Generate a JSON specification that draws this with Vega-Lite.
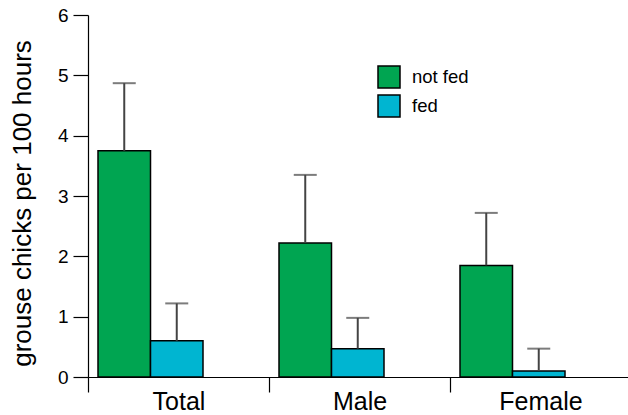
{
  "$schema": "https://vega.github.io/schema/vega-lite/v6.json",
  "width": 543,
  "height": 362,
  "autosize": {"type": "none"},
  "padding": {"left": 88, "top": 15, "right": 0, "bottom": 38},
  "background": "white",
  "config": {
    "view": {"stroke": null},
    "font": "Liberation Sans"
  },
  "data": {
    "values": [
      {"group": "Total", "feeding": "not fed", "mean": 3.75, "upper": 4.87},
      {"group": "Total", "feeding": "fed", "mean": 0.6, "upper": 1.22},
      {"group": "Male", "feeding": "not fed", "mean": 2.22, "upper": 3.35},
      {"group": "Male", "feeding": "fed", "mean": 0.47, "upper": 0.98},
      {"group": "Female", "feeding": "not fed", "mean": 1.85, "upper": 2.72},
      {"group": "Female", "feeding": "fed", "mean": 0.1, "upper": 0.47}
    ]
  },
  "encoding": {
    "x": {
      "field": "group",
      "type": "nominal",
      "sort": ["Total", "Male", "Female"],
      "scale": {"paddingInner": 0, "paddingOuter": 0},
      "axis": {
        "title": null,
        "labelAngle": 0,
        "labelFontSize": 25,
        "labelColor": "black",
        "labelPadding": -3,
        "tickBand": "extent",
        "tickSize": 15,
        "tickColor": "black",
        "tickWidth": 1.2,
        "domainColor": "black",
        "domainWidth": 1.2
      }
    },
    "xOffset": {
      "field": "feeding",
      "type": "nominal",
      "sort": ["not fed", "fed"],
      "scale": {"range": [10, 115]}
    }
  },
  "layer": [
    {
      "mark": {"type": "bar", "stroke": "black", "strokeWidth": 1.5},
      "encoding": {
        "y": {
          "field": "mean",
          "type": "quantitative",
          "scale": {"domain": [0, 6], "nice": false},
          "axis": {
            "title": "grouse chicks per 100 hours",
            "titleFontSize": 26,
            "titleFontWeight": "normal",
            "titleColor": "black",
            "titleAngle": -90,
            "titleX": -58,
            "titleY": 188,
            "titleAlign": "center",
            "titleBaseline": "alphabetic",
            "values": [0, 1, 2, 3, 4, 5, 6],
            "format": "d",
            "labelFontSize": 19,
            "labelColor": "black",
            "labelPadding": 5,
            "tickSize": 15,
            "tickColor": "black",
            "tickWidth": 1.2,
            "domainColor": "black",
            "domainWidth": 1.2,
            "grid": false
          }
        },
        "color": {
          "field": "feeding",
          "type": "nominal",
          "sort": ["not fed", "fed"],
          "scale": {"domain": ["not fed", "fed"], "range": ["#00a551", "#00b5d1"]},
          "legend": {
            "title": null,
            "orient": "none",
            "legendX": 289,
            "legendY": 50,
            "padding": 0,
            "symbolType": "square",
            "symbolSize": 484,
            "symbolStrokeColor": "black",
            "symbolStrokeWidth": 1.5,
            "symbolOpacity": 1,
            "labelFontSize": 18.5,
            "labelColor": "black",
            "labelOffset": 11,
            "rowPadding": 1
          }
        }
      }
    },
    {
      "mark": {"type": "rule", "color": "#444444", "strokeWidth": 2},
      "encoding": {
        "y": {"field": "mean", "type": "quantitative"},
        "y2": {"field": "upper"}
      }
    },
    {
      "mark": {"type": "tick", "color": "#444444", "thickness": 2, "size": 23, "orient": "horizontal"},
      "encoding": {
        "y": {"field": "upper", "type": "quantitative"}
      }
    }
  ]
}
